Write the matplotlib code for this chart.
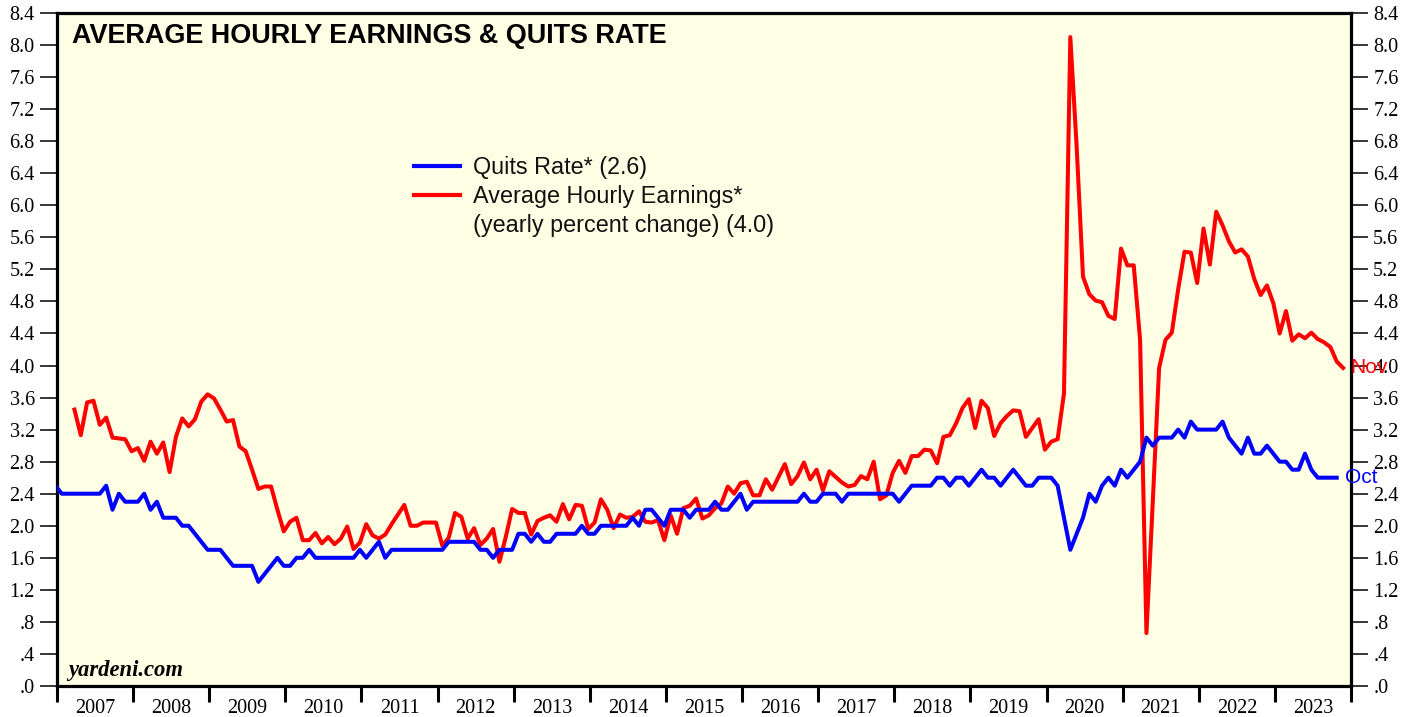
import numpy as np
import matplotlib
matplotlib.use("Agg")
import matplotlib.pyplot as plt
from matplotlib.lines import Line2D
from matplotlib.ticker import FixedLocator, FuncFormatter, NullFormatter

# Quits rate (monthly, Dec 2006 .. Oct 2023)
quits_start = (2006, 12)
quits = [
    2.5,
    2.4, 2.4, 2.4, 2.4, 2.4, 2.4, 2.4, 2.5, 2.2, 2.4, 2.3, 2.3,  # 2007
    2.3, 2.4, 2.2, 2.3, 2.1, 2.1, 2.1, 2.0, 2.0, 1.9, 1.8, 1.7,  # 2008
    1.7, 1.7, 1.6, 1.5, 1.5, 1.5, 1.5, 1.3, 1.4, 1.5, 1.6, 1.5,  # 2009
    1.5, 1.6, 1.6, 1.7, 1.6, 1.6, 1.6, 1.6, 1.6, 1.6, 1.6, 1.7,  # 2010
    1.6, 1.7, 1.8, 1.6, 1.7, 1.7, 1.7, 1.7, 1.7, 1.7, 1.7, 1.7,  # 2011
    1.7, 1.8, 1.8, 1.8, 1.8, 1.8, 1.7, 1.7, 1.6, 1.7, 1.7, 1.7,  # 2012
    1.9, 1.9, 1.8, 1.9, 1.8, 1.8, 1.9, 1.9, 1.9, 1.9, 2.0, 1.9,  # 2013
    1.9, 2.0, 2.0, 2.0, 2.0, 2.0, 2.1, 2.0, 2.2, 2.2, 2.1, 2.0,  # 2014
    2.2, 2.2, 2.2, 2.1, 2.2, 2.2, 2.2, 2.3, 2.2, 2.2, 2.3, 2.4,  # 2015
    2.2, 2.3, 2.3, 2.3, 2.3, 2.3, 2.3, 2.3, 2.3, 2.4, 2.3, 2.3,  # 2016
    2.4, 2.4, 2.4, 2.3, 2.4, 2.4, 2.4, 2.4, 2.4, 2.4, 2.4, 2.4,  # 2017
    2.3, 2.4, 2.5, 2.5, 2.5, 2.5, 2.6, 2.6, 2.5, 2.6, 2.6, 2.5,  # 2018
    2.6, 2.7, 2.6, 2.6, 2.5, 2.6, 2.7, 2.6, 2.5, 2.5, 2.6, 2.6,  # 2019
    2.6, 2.5, 2.1, 1.7, 1.9, 2.1, 2.4, 2.3, 2.5, 2.6, 2.5, 2.7,  # 2020
    2.6, 2.7, 2.8, 3.1, 3.0, 3.1, 3.1, 3.1, 3.2, 3.1, 3.3, 3.2,  # 2021
    3.2, 3.2, 3.2, 3.3, 3.1, 3.0, 2.9, 3.1, 2.9, 2.9, 3.0, 2.9,  # 2022
    2.8, 2.8, 2.7, 2.7, 2.9, 2.7, 2.6, 2.6, 2.6, 2.6,            # 2023
]

# Average hourly earnings, yearly % change (monthly, Mar 2007 .. Nov 2023)
ahe_start = (2007, 3)
ahe = [
    3.45, 3.13, 3.54, 3.56, 3.26, 3.35, 3.10, 3.09, 3.08, 2.93,              # 2007
    2.97, 2.81, 3.05, 2.90, 3.04, 2.67, 3.11, 3.34, 3.24, 3.33, 3.55, 3.64,  # 2008
    3.59, 3.45, 3.30, 3.32, 2.99, 2.93, 2.70, 2.46, 2.49, 2.49, 2.20, 1.93,  # 2009
    2.05, 2.10, 1.82, 1.82, 1.91, 1.78, 1.86, 1.77, 1.84, 1.99, 1.71, 1.79,  # 2010
    2.02, 1.88, 1.84, 1.89, 2.02, 2.14, 2.26, 2.00, 2.00, 2.04, 2.04, 2.04,  # 2011
    1.75, 1.85, 2.16, 2.11, 1.84, 1.97, 1.76, 1.84, 1.96, 1.55, 1.86, 2.21,  # 2012
    2.16, 2.16, 1.89, 2.06, 2.10, 2.13, 2.05, 2.27, 2.08, 2.26, 2.25, 1.96,  # 2013
    2.04, 2.33, 2.20, 1.97, 2.14, 2.10, 2.11, 2.18, 2.05, 2.04, 2.07, 1.82,  # 2014
    2.13, 1.90, 2.22, 2.25, 2.34, 2.09, 2.13, 2.22, 2.28, 2.49, 2.40, 2.53,  # 2015
    2.55, 2.38, 2.38, 2.58, 2.45, 2.61, 2.77, 2.52, 2.62, 2.79, 2.58, 2.70,  # 2016
    2.44, 2.68, 2.61, 2.54, 2.49, 2.51, 2.62, 2.58, 2.80, 2.33, 2.38, 2.66,  # 2017
    2.81, 2.66, 2.87, 2.87, 2.95, 2.94, 2.78, 3.11, 3.13, 3.28, 3.47, 3.58,  # 2018
    3.22, 3.56, 3.47, 3.12, 3.28, 3.37, 3.44, 3.43, 3.11, 3.22, 3.33, 2.95,  # 2019
    3.05, 3.08, 3.65, 8.10, 6.73, 5.11, 4.89, 4.81, 4.79, 4.62, 4.58, 5.46,  # 2020
    5.25, 5.25, 4.32, 0.66, 2.30, 3.97, 4.32, 4.41, 4.95, 5.42, 5.41, 5.03,  # 2021
    5.71, 5.26, 5.92, 5.75, 5.55, 5.41, 5.45, 5.36, 5.08, 4.88, 5.00, 4.78,  # 2022
    4.40, 4.68, 4.31, 4.39, 4.34, 4.41, 4.33, 4.29, 4.23, 4.05, 3.97,        # 2023
]

years = list(range(2007, 2024))
yticks = [round(0.4 * i, 1) for i in range(22)]

title = "AVERAGE HOURLY EARNINGS & QUITS RATE"
quits_label = "Quits Rate* (2.6)"
ahe_label = ["Average Hourly Earnings*", "(yearly percent change) (4.0)"]


def month_axis(start, n):
    y0, m0 = start
    idx = np.arange(n) + (m0 - 1)
    return y0 + idx // 12 + ((idx % 12) + 0.75) / 12.0


serif = "Liberation Serif"
sans = "Liberation Sans"

fig = plt.figure(figsize=(14.17, 7.17), dpi=100)
ax = fig.add_axes([57 / 1417, 1 - 686 / 717, (1351 - 57) / 1417, (686 - 13) / 717])
ax.set_facecolor("#FFFFE5")

qx = month_axis(quits_start, len(quits))
hx = month_axis(ahe_start, len(ahe))
ax.plot(hx, ahe, color="#FF0000", lw=2.9, solid_joinstyle="round", zorder=3)
ax.plot(qx, quits, color="#0000FF", lw=2.9, solid_joinstyle="round", zorder=4)

ax.set_xlim(2007, 2024)
ax.set_ylim(0, 8.4)

for s in ax.spines.values():
    s.set_linewidth(2.3)
    s.set_color("black")

# y axis on both sides
ax.yaxis.set_major_locator(FixedLocator(yticks))


def yfmt(v, pos):
    s = f"{v:.1f}"
    return s[1:] if s.startswith("0") else s


ax.yaxis.set_major_formatter(FuncFormatter(yfmt))
ax.tick_params(axis="y", which="major", direction="out", length=12, width=1.1,
               left=True, right=True, labelleft=True, labelright=True,
               labelsize=14.5, colors="black", pad=4)
for lab in ax.get_yticklabels():
    lab.set_fontfamily(serif)

# x axis: year boundaries as ticks, labels centred in each year
ax.xaxis.set_major_locator(FixedLocator(years + [2024]))
ax.xaxis.set_major_formatter(NullFormatter())
ax.xaxis.set_minor_locator(FixedLocator([y + 0.5 for y in years]))
ax.xaxis.set_minor_formatter(FuncFormatter(lambda v, p: str(int(v))))
ax.tick_params(axis="x", which="major", direction="out", length=11.5, width=2.2)
ax.tick_params(axis="x", which="minor", length=0, pad=9.5, labelsize=14.5)
for lab in ax.xaxis.get_minorticklabels():
    lab.set_fontfamily(serif)

ax.text(0.0116, 0.985, title, transform=ax.transAxes, ha="left", va="top",
        fontsize=19.45, fontweight="bold", family=sans, color="black")

ax.text(0.0085, 0.015, "yardeni.com", transform=ax.transAxes, ha="left",
        va="baseline", fontsize=16.3, fontweight="bold", fontstyle="italic",
        family=serif, color="black")

handles = [Line2D([], [], color="#0000FF", lw=3),
           Line2D([], [], color="#FF0000", lw=3),
           Line2D([], [], linestyle="none")]
leg = ax.legend(handles, [quits_label] + ahe_label, loc="upper left",
                bbox_to_anchor=(0.276, 0.787), frameon=False, borderpad=0,
                borderaxespad=0, handlelength=1.97, handletextpad=0.56,
                labelspacing=0.24, prop={"family": sans, "size": 16.8})
for t in leg.get_texts():
    t.set_color("#111111")

ax.annotate("Nov", xy=(hx[-1], ahe[-1]), xytext=(5, 0), textcoords="offset points",
            color="#FF0000", va="center", ha="left", fontsize=15, family=sans,
            annotation_clip=False, zorder=10)
ax.annotate("Oct", xy=(qx[-1], quits[-1]), xytext=(6, 0), textcoords="offset points",
            color="#0000FF", va="center", ha="left", fontsize=15, family=sans,
            annotation_clip=False, zorder=10)

fig.savefig("out.png", dpi=100, facecolor="white")
